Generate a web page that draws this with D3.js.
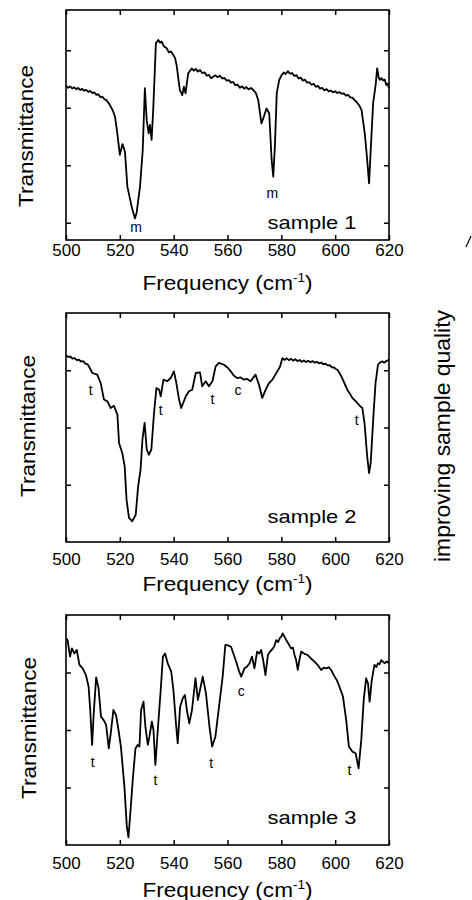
<!DOCTYPE html>
<html>
<head>
<meta charset="utf-8">
<script src="https://cdn.jsdelivr.net/npm/d3@7"></script>
<style>
  body { margin: 0; background: #fff; }
  svg { display: block; }
  text { font-family: "Liberation Sans", Arial, sans-serif; fill: #000; }
</style>
</head>
<body>
<svg width="472" height="900"></svg>
<script>
// frequency ticks shared by the three panels (cm-1)
const freqTicks = [500, 520, 540, 560, 580, 600, 620];

// transmittance in arbitrary units, 0 = bottom of frame, 100 = top
const ticks1 = [7.5, 32.5, 57.5, 82.5];
const ticks2 = [25, 50, 75];
const ticks3 = [25, 50, 75];

const sample1 = [
  [500, 67], [500.8, 66.2], [501.5, 66.8], [502.3, 65.9], [503, 66.4], [503.8, 65.6], [504.5, 66.1],
  [505.3, 65.2], [506, 65.7], [506.8, 64.9], [507.5, 65.3], [508.3, 64.4], [509, 64.8], [509.8, 63.9],
  [510.5, 64.2], [511.3, 63.1], [512, 63.4], [512.8, 62.1], [513.5, 62.3], [514.3, 61.2], [515, 60.8],
  [515.8, 59.6], [516.3, 58.7], [517.5, 56], [518.2, 53.6], [519, 47], [520, 37],
  [521, 41.7], [521.9, 38.4], [522.8, 23.2], [524.4, 14.5], [525.6, 9.4], [526.2, 11.6],
  [527.5, 23.2], [528.5, 39], [529.3, 66], [530, 52], [530.7, 46.4], [531.2, 50], [531.8, 43.5],
  [532.4, 56.5], [533.4, 85.5], [534.3, 87], [535, 85.8], [535.5, 86.3], [536.4, 84.2], [537.4, 83.4],
  [538.2, 81.6], [539, 82], [539.9, 80.4], [540.5, 79.2], [541.1, 76], [542.3, 65.2], [543.2, 63],
  [543.8, 66.7], [544.4, 63.8], [545.4, 72.5], [546.7, 74.6], [547.5, 73.6], [548.2, 74.4],
  [549, 73.2], [549.8, 73.9], [550.6, 72.6], [551.5, 72.9], [552.3, 71.4], [553.1, 71.8],
  [553.9, 70.3], [554.7, 71], [555.5, 71.6], [556.3, 70.8], [557.2, 71.4], [558, 70.2], [558.8, 70.5],
  [559.7, 69.3], [560.5, 69.5], [561.3, 68.4], [562.1, 68.7], [562.9, 67.3], [563.7, 67.6],
  [564.6, 66.2], [565.4, 66.8], [566.2, 65.8], [567, 66.5], [567.8, 65.5], [568.7, 66.1],
  [569.6, 65.2], [570.5, 64], [571.4, 60.9], [572.6, 50.7], [573.3, 52.9], [574.5, 57.2],
  [575.5, 55], [576.4, 34.8], [577, 27.5], [577.6, 40.6], [578.3, 63.8], [579.2, 69.5],
  [580.1, 71.7], [580.9, 72.8], [581.6, 72.2], [582.4, 73.4], [583.2, 72.3], [584, 72.6],
  [584.8, 71.3], [585.6, 71.7], [586.4, 70.2], [587.2, 70.6], [588, 69.3], [588.8, 69.7],
  [589.6, 68.4], [590.4, 68.6], [591.2, 67.5], [592, 67.9], [592.8, 66.6], [593.6, 67],
  [594.4, 65.8], [595.2, 66.1], [596, 65.1], [596.8, 65.6], [597.6, 64.6], [598.4, 65],
  [599.2, 64.2], [600, 64.7], [600.8, 63.9], [601.6, 64.3], [602.4, 63.6], [603.2, 63.8],
  [604, 62.8], [604.8, 63.1], [605.6, 62], [606.4, 61.9], [607.2, 60.8], [607.9, 60.1],
  [609, 58.4], [609.8, 56.5], [611, 46.4], [611.9, 34.8], [612.6, 24.6], [613.2, 39], [614.1, 59.4],
  [615.1, 68.1], [615.6, 74.6], [616.2, 70.5], [616.6, 69.6], [617.2, 70.4], [617.8, 69.3],
  [618.4, 69.8], [619, 67.4], [619.5, 68], [620, 66]
];

const sample2 = [
  [500, 81.4], [500.8, 80.8], [501.6, 81], [502.4, 80.1], [503.2, 80.3], [504, 79.4], [504.8, 79.6],
  [505.6, 78.8], [506.4, 79], [507.2, 77.9], [508, 77.6], [508.5, 76.7], [509.8, 73.8], [511.6, 73.1],
  [512.9, 69.4], [514.1, 62.2], [515.4, 61.4], [516.6, 58.5], [517.8, 59.5], [519.1, 55.6],
  [519.7, 43.2], [520.9, 38.9], [521.8, 33], [522.5, 18.5], [523.4, 10.5], [524.6, 9],
  [525.9, 11.9], [526.8, 24.3], [527.7, 31.6], [528.4, 44.7], [529.2, 52], [530, 40.3],
  [530.8, 38.1], [531.7, 40.3], [532.7, 56.3], [533.6, 67.2], [534.6, 66.5], [535.2, 63.6],
  [536.2, 70.9], [537.6, 70.2], [538.9, 71.6], [540.1, 74.5], [541, 69.4], [542, 62.2],
  [542.8, 58.5], [544.5, 63.6], [545.7, 65.8], [546.9, 66.5], [548.2, 73.8], [549.8, 74.1],
  [550.6, 68], [551.9, 70.2], [553.1, 68], [554.4, 70.2], [555.6, 76.7], [556.8, 78.2],
  [558.7, 77.4], [560, 76.2], [561.2, 74.5], [562.4, 72.6], [563.6, 71.6], [564.8, 71.9],
  [566.1, 70.9], [567.3, 71.2], [568.6, 70.2], [570.4, 73.1], [571.7, 68.7], [572.9, 62.9],
  [574.2, 66.5], [575.4, 69.4], [576.7, 70.9], [578.5, 74.5], [579.5, 76.5], [580.4, 80.3],
  [581.2, 79.5], [582, 80.2], [582.8, 79.4], [583.6, 80], [584.4, 79.2], [585.2, 79.8], [586, 79],
  [586.8, 79.5], [587.6, 78.7], [588.4, 79.3], [589.2, 78.6], [590, 79.1], [590.8, 78.5],
  [591.6, 79], [592.4, 78.3], [593.2, 78.7], [594, 78], [594.8, 78.4], [595.6, 77.6], [596.4, 77.9],
  [597.2, 77.1], [598, 77.2], [598.8, 76.3], [599.6, 76.2], [600.4, 75.4], [600.8, 75.3],
  [601.7, 73.6], [602.6, 71.6], [603.5, 69.2], [604.5, 66.5], [605.4, 64.9], [606.4, 62.9],
  [607.3, 61.8], [608.2, 60.7], [609.2, 59.4], [610.1, 58.5], [610.9, 52], [611.9, 37.4],
  [612.6, 30.1], [613.2, 34.5], [614.2, 54.9], [615, 69.4], [615.9, 77.4], [616.7, 78.4],
  [617.5, 78.9], [618.2, 78.3], [618.8, 78.9], [620, 79.6]
];

const sample3 = [
  [500, 89.9], [500.6, 89.1], [501.5, 81.9], [502.2, 85.5], [503.1, 83.3], [504, 84.8],
  [505, 78.3], [506.2, 76.8], [507.4, 73.9], [508.4, 68.8], [509, 58.7], [509.7, 43.5],
  [510.3, 57.2], [511.2, 72.9], [512.1, 68.1], [513, 55.8], [514, 54.3], [514.9, 52.2],
  [515.9, 42], [516.7, 49.3], [517.6, 58.7], [518.6, 56.5], [519.5, 50], [520.4, 42.8],
  [521.7, 25.4], [522.6, 8], [523.2, 3.3], [523.9, 13.8], [524.8, 28.3], [525.8, 42],
  [526.6, 43.5], [527.3, 42.8], [527.9, 58.7], [528.8, 62.3], [529.5, 51.4], [530.4, 43.5],
  [531, 47.1], [531.9, 53.6], [532.5, 50], [533.2, 34.8], [534.1, 50], [535.1, 65.9],
  [536, 81.9], [536.8, 83.3], [537.8, 79], [539.1, 75.4], [539.9, 67.4], [540.9, 52.2],
  [541.5, 44.2], [542.4, 60.1], [543.4, 63.8], [544.2, 65.2], [544.9, 58.7], [545.8, 52.9],
  [546.8, 58.7], [548.1, 72.5], [549, 63], [549.9, 68.1], [550.8, 73.2], [552, 65.9],
  [553.3, 51.4], [554.3, 42.8], [555.5, 47.1], [557, 61.6], [558.2, 73.2], [559.2, 87],
  [560.2, 86.8], [561.3, 86.2], [562.4, 82.5], [563.4, 79], [564.3, 75.5], [565.1, 73.2],
  [566.3, 76.8], [567.2, 77.5], [568.2, 79], [569.1, 81.9], [570, 76.8], [571, 84.1],
  [571.8, 83.2], [572.5, 84.8], [573.3, 80], [574.1, 73.9], [575, 82.6], [575.9, 84.2],
  [576.9, 85.5], [577.5, 86.8], [578.1, 89.1], [578.8, 88.2], [579.4, 89.9], [580, 90.6],
  [580.5, 92], [581.2, 90.5], [581.8, 89.1], [582.7, 87.4], [583.6, 85.5], [584.3, 85.8],
  [584.9, 82.6], [585.5, 80.4], [586.1, 76.1], [586.8, 81], [587.4, 84.1], [588.6, 83.1],
  [589.8, 82.6], [591, 81.1], [592.3, 79.7], [593.5, 78.3], [594.8, 76.1], [595.8, 77.1],
  [596.7, 76.8], [597.6, 77.3], [598.5, 76.1], [599.8, 73.2], [600.7, 71.5], [601.6, 68.8],
  [602.9, 64.5], [604.1, 54.3], [605.1, 42.8], [606.4, 40.6], [607.6, 39.9], [608.7, 33.3],
  [609.7, 45.7], [610.6, 63], [611.5, 72.5], [612.2, 70.3], [612.8, 62.3], [613.6, 71.7],
  [614.6, 78.3], [615.3, 77.4], [615.9, 79], [616.5, 78.6], [617.1, 80.4], [617.8, 79.6],
  [618.4, 79], [619.2, 79.8], [620, 79]
];

// peak labels: [frequency, transmittance, letter]
const marks1 = [[526, 5.8, 'm'], [576.7, 20.6, 'm']];
const marks2 = [[509.2, 66.2, 't'], [535.2, 57.8, 't'], [554.4, 62.6, 't'], [563.9, 66.2, 'c'], [608, 53.1, 't']];
const marks3 = [[509.9, 36.2, 't'], [533.2, 28.3, 't'], [553.9, 35.8, 't'], [565.1, 67.1, 'c'], [605.3, 32.6, 't']];

const svg = d3.select('svg');
const left = 66, right = 389;

const panels = [
  { top: 10, bottom: 240, ticks: ticks1, data: sample1, marks: marks1, name: 'sample 1',
    pad: 4, titleY: 290, yLabelX: 33, yLabelY: 136, sampleY: 229 },
  { top: 313, bottom: 542, ticks: ticks2, data: sample2, marks: marks2, name: 'sample 2',
    pad: 11, titleY: 591, yLabelX: 35, yLabelY: 426, sampleY: 523 },
  { top: 615, bottom: 845, ticks: ticks3, data: sample3, marks: marks3, name: 'sample 3',
    pad: 12, titleY: 897, yLabelX: 36, yLabelY: 728, sampleY: 824 }
];

const x = d3.scaleLinear().domain([500, 620]).range([left, right]);

panels.forEach(p => {
  const y = d3.scaleLinear().domain([0, 100]).range([p.bottom, p.top]);
  const g = svg.append('g');

  const line = d3.line()
    .x(d => x(d[0]))
    .y(d => y(d[1]));

  g.append('path')
    .datum(p.data)
    .attr('fill', 'none')
    .attr('stroke', '#000')
    .attr('stroke-width', 1.8)
    .attr('stroke-linejoin', 'round')
    .attr('d', line);

  // inward ticks on all four sides
  const bottomAxis = g.append('g')
    .attr('transform', `translate(0,${p.bottom})`)
    .call(d3.axisBottom(x).tickValues(freqTicks).tickSize(-5).tickPadding(p.pad));
  g.append('g')
    .attr('transform', `translate(0,${p.top})`)
    .call(d3.axisTop(x).tickValues(freqTicks).tickSize(-5).tickFormat(''));
  g.append('g')
    .attr('transform', `translate(${left},0)`)
    .call(d3.axisLeft(y).tickValues(p.ticks).tickSize(-5).tickFormat(''));
  g.append('g')
    .attr('transform', `translate(${right},0)`)
    .call(d3.axisRight(y).tickValues(p.ticks).tickSize(-5).tickFormat(''));

  g.selectAll('.domain').remove();
  g.selectAll('.tick line').attr('stroke', '#000').attr('stroke-width', 1.5);
  bottomAxis.selectAll('text')
    .attr('font-family', '"Liberation Sans", Arial, sans-serif')
    .attr('font-size', 17)
    .attr('fill', '#000');

  g.append('rect')
    .attr('x', left)
    .attr('y', p.top)
    .attr('width', right - left)
    .attr('height', p.bottom - p.top)
    .attr('fill', 'none')
    .attr('stroke', '#000')
    .attr('stroke-width', 1.6);

  const title = g.append('text')
    .attr('x', (left + right) / 2)
    .attr('y', p.titleY)
    .attr('text-anchor', 'middle')
    .attr('font-size', 20)
    .attr('textLength', 170)
    .attr('lengthAdjust', 'spacingAndGlyphs');
  title.append('tspan').text('Frequency (cm');
  title.append('tspan').attr('dy', -8).attr('font-size', 12).text('-1');
  title.append('tspan').attr('dy', 8).text(')');

  g.append('text')
    .attr('transform', `translate(${p.yLabelX},${p.yLabelY}) rotate(-90)`)
    .attr('text-anchor', 'middle')
    .attr('font-size', 20)
    .attr('textLength', 142)
    .attr('lengthAdjust', 'spacingAndGlyphs')
    .text('Transmittance');

  g.append('text')
    .attr('x', 312)
    .attr('y', p.sampleY)
    .attr('text-anchor', 'middle')
    .attr('font-size', 19)
    .attr('textLength', 89)
    .attr('lengthAdjust', 'spacingAndGlyphs')
    .text(p.name);

  g.selectAll('.peak')
    .data(p.marks)
    .enter()
    .append('text')
    .attr('class', 'peak')
    .attr('x', d => x(d[0]))
    .attr('y', d => y(d[1]))
    .attr('dy', '0.35em')
    .attr('text-anchor', 'middle')
    .attr('font-size', 14)
    .attr('fill', '#000')
    .text(d => d[2]);
});

svg.append('text')
  .attr('transform', 'translate(450,436) rotate(-90)')
  .attr('text-anchor', 'middle')
  .attr('font-size', 22)
  .attr('textLength', 252)
  .attr('lengthAdjust', 'spacingAndGlyphs')
  .text('improving sample quality');

// tip of the arrow cut off at the right edge
svg.append('path')
  .attr('d', 'M466,247 L471,236')
  .attr('stroke', '#000')
  .attr('stroke-width', 1.2);
</script>
</body>
</html>
